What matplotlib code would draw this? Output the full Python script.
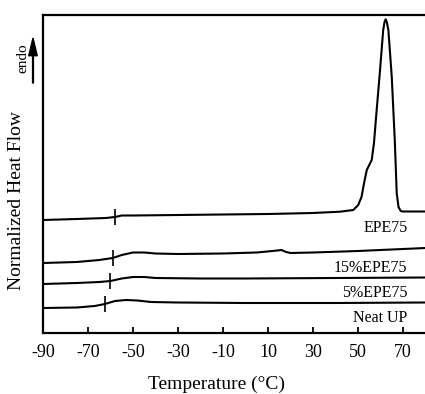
import numpy as np
import matplotlib
matplotlib.use("Agg")
import matplotlib.pyplot as plt

plt.rcParams['font.family'] = ['Liberation Serif', 'DejaVu Serif']
plt.rcParams['axes.unicode_minus'] = False

# curves (temperature in C, signal in arbitrary units)
t_epe = [-90, -75, -62, -58, -55, -50, -30, -10, 10, 30, 42, 47.9, 50.1, 51.6, 52.7, 53.9, 55,
         56.1, 57.1, 58.3, 59.8, 61.2, 61.8, 62.3, 62.8, 63.5, 65, 66.4, 67.2, 68, 69, 70, 80]
y_epe = [113, 114, 115, 116, 117.5, 117.5, 118, 118.5, 119, 120, 121.3, 123, 128, 136.3, 150,
         163, 168, 173, 190, 223, 263, 303, 311, 313.7, 311, 303, 256.3, 190, 140, 126, 122,
         121.5, 121.5]

t_15 = [-90, -75, -65, -59, -55, -50, -45, -40, -30, -10, 5, 12, 16, 18, 20, 30, 50, 80]
y_15 = [70, 71, 73, 75, 78, 80.5, 80.5, 79.5, 79, 79.5, 80.5, 82, 83, 81, 80, 80.5, 82, 85]

t_5 = [-90, -75, -65, -60, -55, -50, -45, -40, -20, 0, 40, 80]
y_5 = [49, 50, 51, 52, 54.5, 56, 56, 55, 54.5, 54.5, 55, 55.5]

t_neat = [-90, -75, -67, -62.5, -58, -53, -48, -42, -30, 0, 40, 80]
y_neat = [25, 25.5, 27, 29, 32, 33, 32.5, 31, 30.5, 30, 30, 30.5]

# glass transition marks
tg_t = [-58, -59, -60.4, -62.5]
tg_y = [116, 75, 52, 29]

labels = ["EPE75", "15%EPE75", "5%EPE75", "Neat UP"]
label_y = [105, 65, 40, 15]

fig = plt.figure(figsize=(4.25, 3.94), dpi=100)
ax = fig.add_axes([43/425, 61/394, 382/425, 318/394])

for t, y in [(t_epe, y_epe), (t_15, y_15), (t_5, y_5), (t_neat, y_neat)]:
    ax.plot(t, y, color='black', lw=1.5, solid_joinstyle='round')
ax.plot(tg_t, tg_y, ls='none', marker='|', color='black', ms=11, mew=1.2)

for lab, ly in zip(labels, label_y):
    ax.text(72, ly, lab, ha='right', va='center', fontsize=11.5)

ax.set_xlim(-90, -90 + 382/2.25)
ax.set_ylim(0, 318)
ax.set_xticks(np.arange(-90, 71, 20))
ax.set_yticks([])
ax.tick_params(axis='x', direction='in', length=4, width=1.3, labelsize=13, pad=8)
for s in ['left', 'bottom', 'top']:
    ax.spines[s].set_linewidth(1.6)
ax.spines['right'].set_visible(False)
ax.set_xlabel("Temperature (°C)", fontsize=14)
ax.xaxis.set_label_coords(0.455, -0.135)

fig.text(17/425, 1 - 200/394, "Normalized Heat Flow", rotation=90, ha='center', va='center', fontsize=14)
fig.text(23/425, 1 - 58/394, "endo", rotation=90, ha='center', va='center', fontsize=11)
fig.patches.append(matplotlib.patches.FancyArrow(33/425, 1 - 83/394, 0, 45/394, width=0.002,
                   head_width=0.02, head_length=0.045, length_includes_head=True,
                   color='black', transform=fig.transFigure, figure=fig))

fig.savefig("out.png", dpi=100)
